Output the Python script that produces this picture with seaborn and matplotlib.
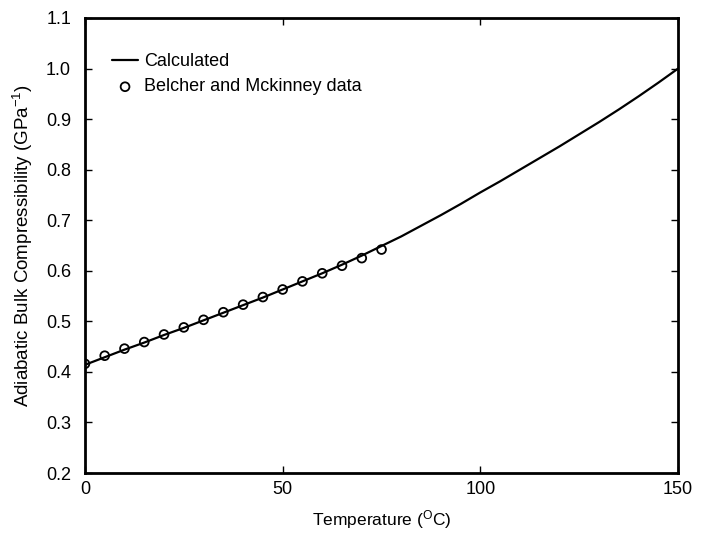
import numpy as np
import pandas as pd
import seaborn as sns
import matplotlib
matplotlib.use('Agg')
import matplotlib.pyplot as plt

# calculated curve
calc_T = [0, 5, 10, 15, 20, 25, 30, 35, 40, 45, 50, 55, 60, 65, 70, 75,
          80, 85, 90, 95, 100, 105, 110, 115, 120, 125, 130, 135, 140, 145, 150]
calc_beta = [0.414, 0.429, 0.444, 0.458, 0.473, 0.487, 0.502, 0.517, 0.532, 0.547,
             0.563, 0.579, 0.595, 0.612, 0.630, 0.649, 0.668, 0.689, 0.710, 0.732,
             0.755, 0.777, 0.800, 0.823, 0.846, 0.870, 0.894, 0.919, 0.945, 0.972, 1.000]

# Belcher and Mckinney data
data_T = [0, 5, 10, 15, 20, 25, 30, 35, 40, 45, 50, 55, 60, 65, 70, 75]
data_beta = [0.416, 0.432, 0.446, 0.459, 0.474, 0.488, 0.503, 0.518,
             0.533, 0.548, 0.563, 0.579, 0.595, 0.610, 0.625, 0.642]

df_calc = pd.DataFrame({'T': calc_T, 'beta': calc_beta})
df_data = pd.DataFrame({'T': data_T, 'beta': data_beta})

sns.set_style('ticks')
plt.rcParams['font.family'] = ['Liberation Sans', 'DejaVu Sans']
plt.rcParams['mathtext.fontset'] = 'custom'
plt.rcParams['mathtext.rm'] = 'Liberation Sans'
plt.rcParams['mathtext.it'] = 'Liberation Sans:italic'
plt.rcParams['text.color'] = 'black'
plt.rcParams['axes.labelcolor'] = 'black'
plt.rcParams['xtick.color'] = 'black'
plt.rcParams['ytick.color'] = 'black'
plt.rcParams['axes.edgecolor'] = 'black'

fig = plt.figure(figsize=(7.02, 5.36), dpi=100)
ax = fig.add_axes([0.121, 0.1175, 0.845, 0.849])

sns.lineplot(data=df_calc, x='T', y='beta', ax=ax, color='black', lw=1.6,
             label='Calculated')
sns.scatterplot(data=df_data, x='T', y='beta', ax=ax, marker='o', s=40,
                facecolor='none', edgecolor='black', linewidth=1.3,
                label='Belcher and Mckinney data', zorder=3)

ax.set_xlim(0, 150)
ax.set_ylim(0.2, 1.1)
ax.set_xticks([0, 50, 100, 150])
ax.set_yticks(np.arange(0.2, 1.101, 0.1))
ax.set_yticklabels([f'{v:.1f}' for v in np.arange(0.2, 1.101, 0.1)])
ax.tick_params(direction='in', length=5, width=1, labelsize=13,
               top=True, right=True)
ax.tick_params(axis='y', pad=10)
ax.tick_params(axis='x', pad=6)
for sp in ax.spines.values():
    sp.set_linewidth(2)
    sp.set_visible(True)

ax.set_xlabel('Temperature ($\\mathregular{^{O}}$C)', fontsize=12.5, labelpad=7)
ax.set_ylabel('Adiabatic Bulk Compressibility (GPa$\\mathregular{^{-1}}$)',
              fontsize=13.5, labelpad=8)

ax.legend(loc='upper left', bbox_to_anchor=(0.025, 0.95), frameon=False,
          fontsize=13, handlelength=1.4, handletextpad=0.35, labelspacing=0.45,
          borderaxespad=0.3)

fig.savefig('out.png', dpi=100)
